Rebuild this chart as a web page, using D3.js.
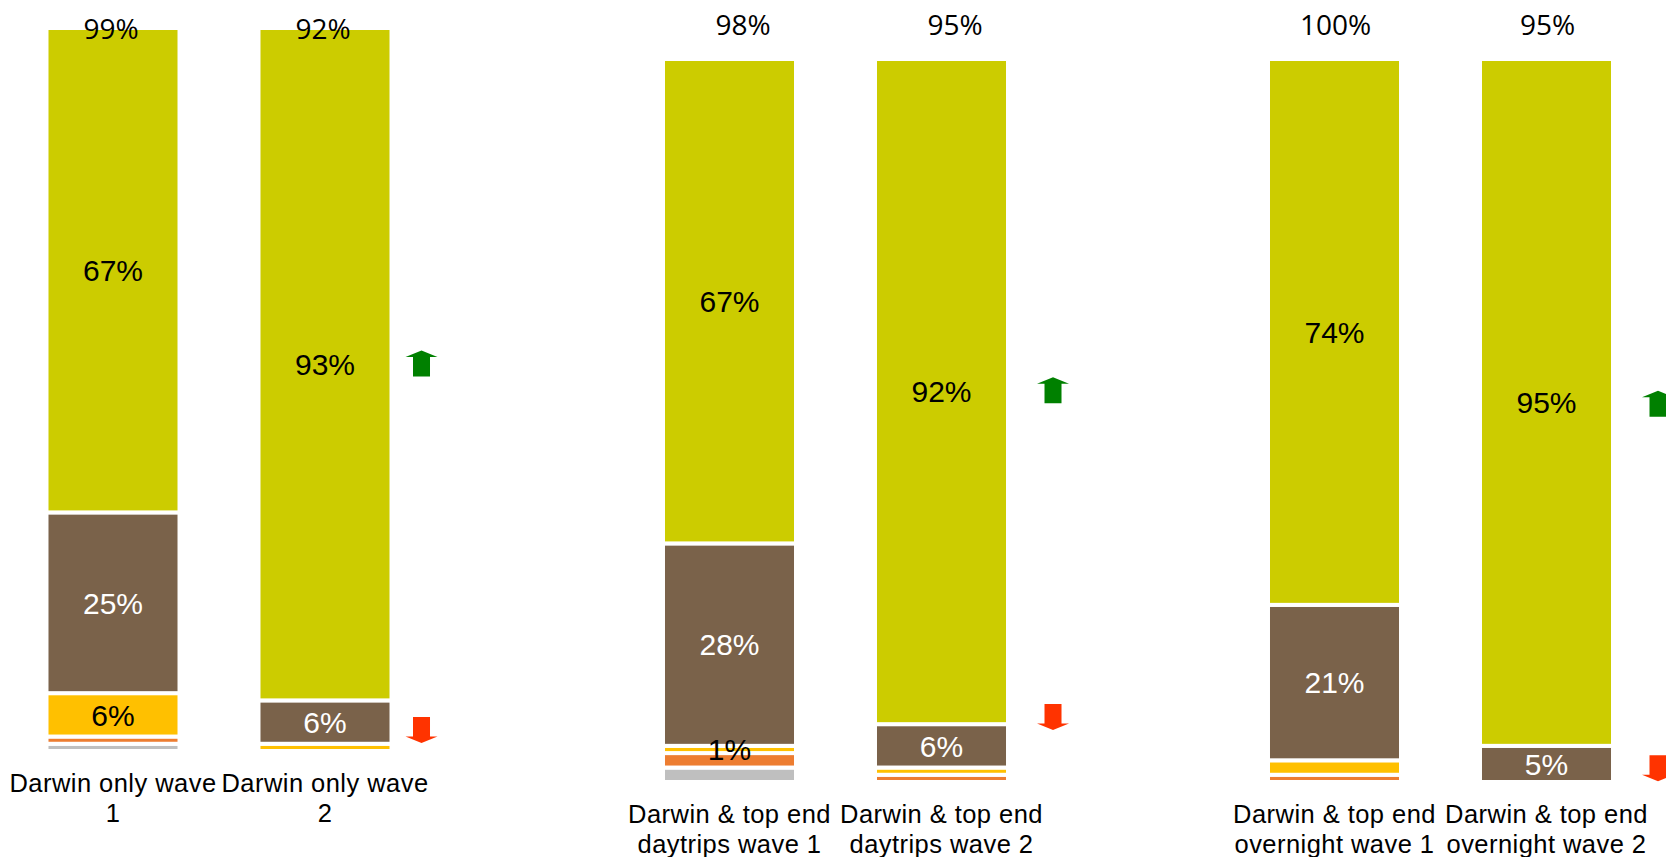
<!DOCTYPE html>
<html>
<head>
<meta charset="utf-8">
<script src="https://cdn.jsdelivr.net/npm/d3@7"></script>
<style>
  html, body { margin: 0; padding: 0; background: #ffffff; }
  svg { display: block; }
</style>
</head>
<body>
<svg id="chart" width="1666" height="857"></svg>
<script>
// ---------------- DATA ----------------
// Stack order, bottom to top
const seriesNames = ["Grey", "Orange", "Yellow", "Brown", "Olive"];
const seriesColors = ["#BFBFBF", "#ED7D31", "#FFC000", "#7A624A", "#CCCC00"];
const labelColors = ["#000000", "#000000", "#000000", "#FFFFFF", "#000000"];

const panel1Categories = ["Darwin only wave 1", "Darwin only wave 2"];
const panel1Values = [[1, 1, 6, 25, 67], [0, 0, 1, 6, 93]];
const panel1Labels = [["", "", "6%", "25%", "67%"], ["", "", "", "6%", "93%"]];
const panel1Totals = ["99%", "92%"];
const panel1ArrowDirs = ["up", "down"];
const panel1ArrowLevels = [53.6, 2.9];

const panel2Categories = ["Darwin & top end daytrips wave 1", "Darwin & top end daytrips wave 2"];
const panel2Values = [[2, 2, 1, 28, 67], [0, 1, 1, 6, 92]];
const panel2Labels = [["", "", "1%", "28%", "67%"], ["", "", "", "6%", "92%"]];
const panel2Totals = ["98%", "95%"];
const panel2ArrowDirs = ["up", "down"];
const panel2ArrowLevels = [54.2, 9.0];

const panel3Categories = ["Darwin & top end overnight wave 1", "Darwin & top end overnight wave 2"];
const panel3Values = [[0, 1, 2, 21.5, 75.5], [0, 0, 0, 5, 95]];
const panel3Labels = [["", "", "", "21%", "74%"], ["", "", "", "5%", "95%"]];
const panel3Totals = ["100%", "95%"];
const panel3ArrowDirs = ["up", "down"];
const panel3ArrowLevels = [52.3, 1.9];

// ---------------- LAYOUT ----------------
const panels = [
  { cats: panel1Categories, vals: panel1Values, labels: panel1Labels, totals: panel1Totals,
    arrowDirs: panel1ArrowDirs, arrowLevels: panel1ArrowLevels,
    x0: 7, top: 28, bottom: 751, totalY: 39, totalDx: -2, arrowDx: 32 },
  { cats: panel2Categories, vals: panel2Values, labels: panel2Labels, totals: panel2Totals,
    arrowDirs: panel2ArrowDirs, arrowLevels: panel2ArrowLevels,
    x0: 623.5, top: 59, bottom: 782, totalY: 35, totalDx: 13.5, arrowDx: 47 },
  { cats: panel3Categories, vals: panel3Values, labels: panel3Labels, totals: panel3Totals,
    arrowDirs: panel3ArrowDirs, arrowLevels: panel3ArrowLevels,
    x0: 1228.5, top: 59, bottom: 782, totalY: 35, totalDx: 1, arrowDx: 47 }
];
const panelWidth = 424;
const strokeW = 4;
const catFont = "'Liberation Sans', Arial, sans-serif";
const catSize = 25.5;
const catSpacing = 0.45;

const svg = d3.select("#chart");

function wrapLines(text, maxW, measure) {
  const words = text.split(" ");
  const lines = [];
  let cur = "";
  words.forEach(w => {
    const trial = cur ? cur + " " + w : w;
    if (cur && measure(trial) > maxW) { lines.push(cur); cur = w; }
    else cur = trial;
  });
  if (cur) lines.push(cur);
  return lines;
}

const measurer = svg.append("text")
  .attr("font-family", catFont)
  .attr("font-size", catSize)
  .attr("letter-spacing", catSpacing)
  .attr("visibility", "hidden");
const measure = s => { measurer.text(s); return measurer.node().getComputedTextLength(); };

panels.forEach(p => {
  const g = svg.append("g");
  const x = d3.scaleBand()
    .domain(p.cats)
    .range([p.x0, p.x0 + panelWidth])
    .paddingInner(0.3726)
    .paddingOuter(0.1863);
  const y = d3.scaleLinear().domain([0, 100]).range([p.bottom, p.top]);

  const keys = seriesNames.map((s, i) => i);
  const rows = p.cats.map((c, ci) => {
    const o = { cat: c };
    keys.forEach(k => o[k] = p.vals[ci][k]);
    return o;
  });
  const stack = d3.stack().keys(keys)(rows);

  stack.forEach((layer, li) => {
    layer.forEach((d, ci) => {
      const v = d[1] - d[0];
      if (v <= 0) return;
      g.append("rect")
        .attr("x", x(p.cats[ci]))
        .attr("y", y(d[1]))
        .attr("width", x.bandwidth())
        .attr("height", y(d[0]) - y(d[1]))
        .attr("fill", seriesColors[li])
        .attr("stroke", "#ffffff")
        .attr("stroke-width", strokeW);
    });
  });

  // segment labels
  stack.forEach((layer, li) => {
    layer.forEach((d, ci) => {
      const lab = p.labels[ci][li];
      if (!lab) return;
      g.append("text")
        .attr("x", x(p.cats[ci]) + x.bandwidth() / 2)
        .attr("y", (y(d[0]) + y(d[1])) / 2)
        .attr("dy", "0.36em")
        .attr("text-anchor", "middle")
        .attr("font-family", "'Liberation Sans', Arial, sans-serif")
        .attr("font-size", 30)
        .attr("fill", labelColors[li])
        .text(lab);
    });
  });

  // totals on top
  p.cats.forEach((c, ci) => {
    g.append("text")
      .attr("x", x(c) + x.bandwidth() / 2 + p.totalDx)
      .attr("y", p.totalY)
      .attr("text-anchor", "middle")
      .attr("font-family", "'Open Sans', 'Noto Sans', sans-serif")
      .attr("font-size", 28)
      .attr("fill", "#000000")
      .text(p.totals[ci]);
  });

  // category labels
  p.cats.forEach(c => {
    const lines = wrapLines(c, 214, measure);
    const t = g.append("text")
      .attr("text-anchor", "middle")
      .attr("font-family", catFont)
      .attr("font-size", catSize)
      .attr("letter-spacing", catSpacing)
      .attr("fill", "#000000");
    lines.forEach((ln, i) => {
      t.append("tspan")
        .attr("x", x(c) + x.bandwidth() / 2)
        .attr("y", p.bottom + 41 + i * 30)
        .text(ln);
    });
  });

  // change arrows, beside the second bar
  const lastCat = p.cats[p.cats.length - 1];
  const ax = x(lastCat) + x.bandwidth() - strokeW / 2 + p.arrowDx;
  const hw = 16, sw = 8.5, hh = 13, head = 6.5;
  const upPts = [[0, -hh], [hw, -hh + head], [sw, -hh + head], [sw, hh], [-sw, hh], [-sw, -hh + head], [-hw, -hh + head]];
  p.arrowDirs.forEach((dir, i) => {
    const pts = dir === "up" ? upPts : upPts.map(([a, b]) => [a, -b]);
    g.append("path")
      .attr("d", d3.line()(pts) + "Z")
      .attr("transform", `translate(${ax},${y(p.arrowLevels[i])})`)
      .attr("fill", dir === "up" ? "#008000" : "#FF3300");
  });
});
measurer.remove();
</script>
</body>
</html>
